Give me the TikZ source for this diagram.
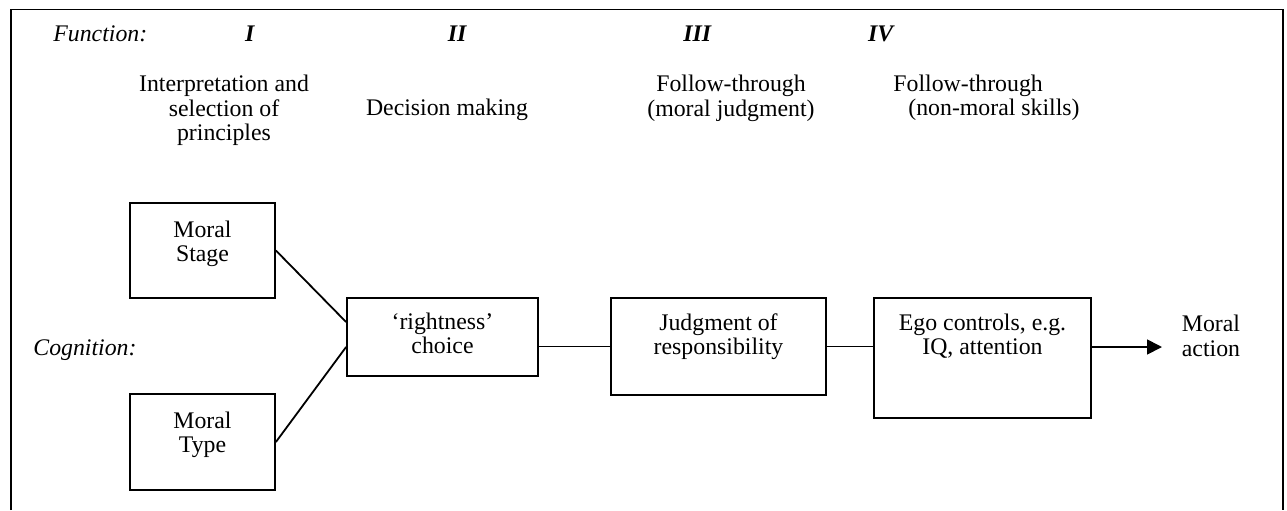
\documentclass[tikz,border=0pt]{standalone}
\usepackage{fontspec}
\setmainfont{Liberation Serif}
\usetikzlibrary{arrows.meta,calc}
\begin{document}
\begin{tikzpicture}[x=0.5pt,y=-0.5pt,
  every node/.style={font=\fontsize{11.9}{12.1}\selectfont, inner sep=0pt},
  box/.style={draw, line width=0.9pt, inner sep=0pt},
  lbl/.style={align=center, anchor=north},
  conn/.style={line width=0.9pt},
  frame/.style={line width=0.9pt}]
\useasboundingbox (0,0) rectangle (1287,510);
% frame (open at the bottom)
\draw[frame] (11,510) -- (11,9.5) -- (1283,9.5) -- (1283,510);
% header row
\node[anchor=base west] (fn) at (53,41) {\textit{Function:}};
\node[anchor=base] (n1) at (250,41) {\textbf{\textit{I}}};
\node[anchor=base] (n2) at (457.5,41) {\textbf{\textit{II}}};
\node[anchor=base] (n3) at (697.5,41) {\textbf{\textit{III}}};
\node[anchor=base] (n4) at (881.5,41) {\textbf{\textit{IV}}};
\node[lbl] (h1) at (224,75) {Interpretation and\\selection of\\principles};
\node[anchor=base] (h2) at (447,115) {Decision making};
\node[lbl] (h3) at (731,75) {Follow-through\\(moral judgment)};
\node[anchor=base west] (h4a) at (893,91) {Follow-through};
\node[anchor=base west] (h4b) at (908,115) {(non-moral skills)};
\node[anchor=base west] (cog) at (33,355) {\textit{Cognition:}};
% boxes
\node[box, minimum width=72.5pt, minimum height=47.5pt] (stage) at (202.5,250.5) {};
\node[box, minimum width=72.5pt, minimum height=48pt] (type) at (202.5,442) {};
\node[box, minimum width=95.5pt, minimum height=39pt] (right) at (442.5,337) {};
\node[box, minimum width=107.5pt, minimum height=48.5pt] (judg) at (718.5,346.5) {};
\node[box, minimum width=108.5pt, minimum height=60pt] (ego) at (982.5,358) {};
% box texts
\node[lbl] (staget) at ($(stage.north)+(0,18)$) {Moral\\Stage};
\node[lbl] (typet) at ($(type.north)+(0,18)$) {Moral\\Type};
\node[lbl] (rightt) at ($(right.north)+(0,15.5)$) {‘rightness’\\choice};
\node[lbl] (judgt) at ($(judg.north)+(0,16)$) {Judgment of\\responsibility};
\node[lbl] (egot) at ($(ego.north)+(0,16)$) {Ego controls, e.g.\\IQ, attention};
\node[lbl] (act) at (1211,315) {Moral\\action};
% connectors
\draw[conn] (stage.east) -- ($(right.west)+(0,-15)$);
\draw[conn] (type.east) -- ($(right.west)+(0,10)$);
\draw[conn] (judg.west -| right.east) -- (judg.west);
\draw[conn] (judg.east) -- (judg.east -| ego.west);
\coordinate (tip) at (1162,347);
\draw[conn,-{Triangle[length=7.5pt,width=7.5pt]}] (tip -| ego.east) -- (tip);
\end{tikzpicture}
\end{document}
